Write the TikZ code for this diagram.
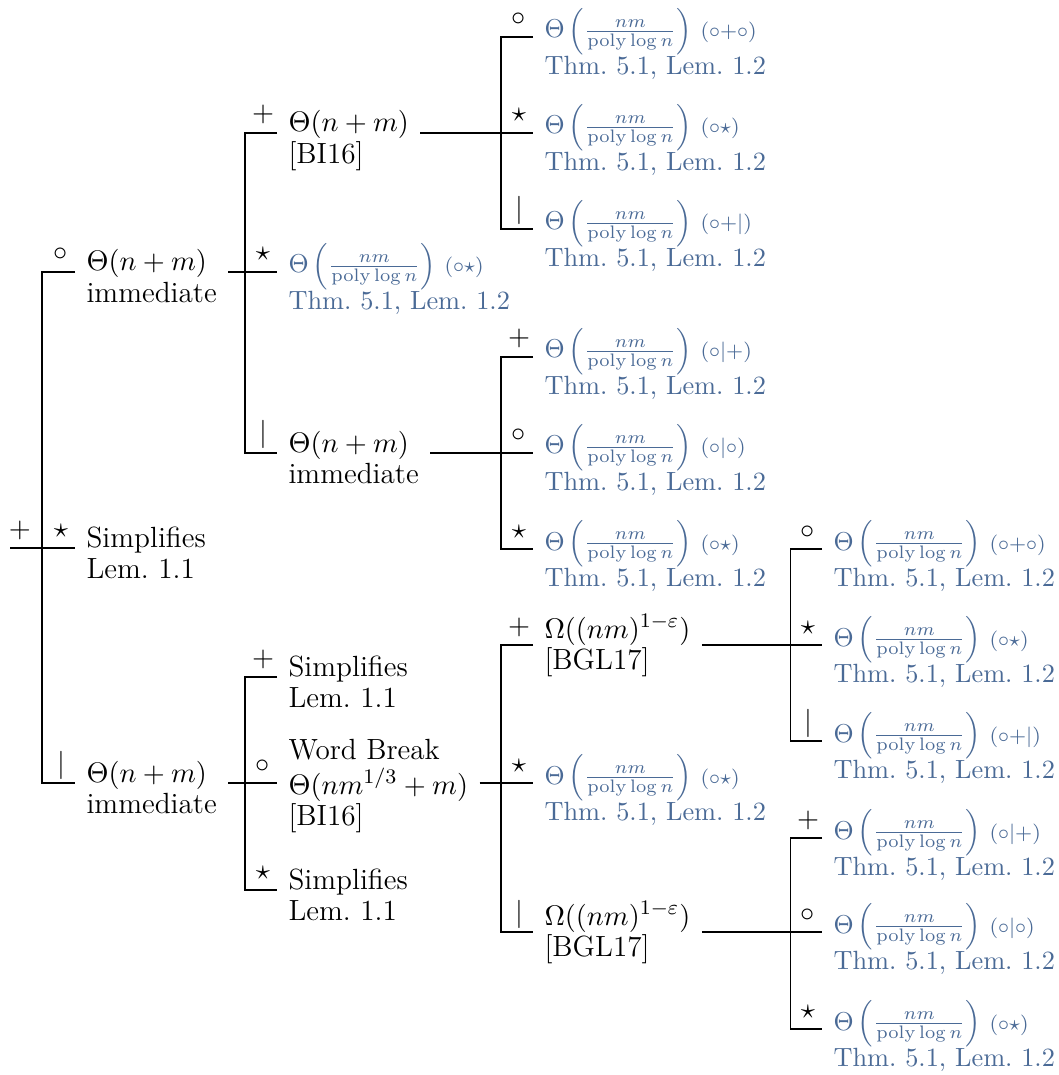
\documentclass[tikz,border=0pt]{standalone}
\usepackage{amsmath}
\usepackage{tikz}
\usetikzlibrary{calc}

\definecolor{resblue}{RGB}{74,106,150}

% lines of a node, its baseline on the first line
\newcommand{\rows}[1]{\begin{tabular}[t]{@{}l@{}}#1\end{tabular}}
% blue result text of a leaf
\newcommand{\ratebox}[1]{$\Theta\left(\frac{nm}{\mathrm{poly}\log n}\right)$ {\footnotesize$(#1)$}\\Thm.~5.1, Lem.~1.2}

% child: name, edge symbol, x and y where its edge ends, baseline offset, style, text
\newcommand{\kid}[7]{%
  \coordinate (#1-in) at (#3,#4);
  \node[#6] (#1) at (#3,{#4+#5}) {\rows{#7}};
  \node[sym] (#1-sym) at ([shift={(-14,-11)}]#1-in) {$#2$};
}
% parent with its three children
\newcommand{\fork}[4]{%
  \draw (#1.east |- #3-in) -- (#3-in);
  \draw (#2-in) -- ++(-32,0) |- (#4-in);
}

\begin{document}
\begin{tikzpicture}[x=0.387pt, y=-0.387pt,
    every node/.style={font=\fontsize{11.3}{12}\selectfont},
    txt/.style={anchor=base west, inner xsep=4.26pt},
    res/.style={txt, text=resblue, font=\fontsize{10.2}{11}\selectfont},
    sym/.style={anchor=base, inner sep=0pt}]
  \useasboundingbox (0,0) rectangle (1058,1075);

  % root
  \coordinate (root) at (10,548);
  \node[sym] (root-sym) at ([shift={(10,-11)}]root) {$+$};

  % first level
  \kid{a1}{\circ}{75}{272}{-1}{txt}{$\Theta(n+m)$\\immediate}
  \kid{a2}{\star}{75}{548}{-1}{txt}{Simplifies\\Lem.~1.1}
  \kid{a3}{|}{75}{783}{-1}{txt}{$\Theta(n+m)$\\immediate}
  \draw (root) -- (a2-in);
  \draw (a1-in) -- ++(-33,0) |- (a3-in);

  % second level
  \kid{b1}{+}{277}{133}{-1}{txt}{$\Theta(n+m)$\\{}[BI16]}
  \kid{b2}{\star}{277}{272}{1}{res}{\ratebox{\circ\star}}
  \kid{b3}{|}{277}{453}{-1}{txt}{$\Theta(n+m)$\\immediate}
  \kid{b4}{+}{277}{677}{-1}{txt}{Simplifies\\Lem.~1.1}
  \kid{b5}{\circ}{277}{783}{-24}{txt}{Word Break\\$\Theta(nm^{1/3}+m)$\\{}[BI16]}
  \kid{b6}{\star}{277}{890}{-1}{txt}{Simplifies\\Lem.~1.1}
  \fork{a1}{b1}{b2}{b3}
  \fork{a3}{b4}{b5}{b6}

  % third level
  \kid{c1}{\circ}{533}{37}{1}{res}{\ratebox{\circ{+}\circ}}
  \kid{c2}{\star}{533}{133}{1}{res}{\ratebox{\circ\star}}
  \kid{c3}{|}{533}{229}{1}{res}{\ratebox{\circ{+}|}}
  \kid{c4}{+}{533}{357}{1}{res}{\ratebox{\circ|{+}}}
  \kid{c5}{\circ}{533}{453}{1}{res}{\ratebox{\circ|\circ}}
  \kid{c6}{\star}{533}{549}{1}{res}{\ratebox{\circ\star}}
  \kid{c7}{+}{533}{645}{-7}{txt}{$\Omega((nm)^{1-\varepsilon})$\\{}[BGL17]}
  \kid{c8}{\star}{533}{783}{1}{res}{\ratebox{\circ\star}}
  \kid{c9}{|}{533}{932}{-7}{txt}{$\Omega((nm)^{1-\varepsilon})$\\{}[BGL17]}
  \fork{b1}{c1}{c2}{c3}
  \fork{b3}{c4}{c5}{c6}
  \fork{b5}{c7}{c8}{c9}

  % fourth level
  \kid{d1}{\circ}{822}{549}{1}{res}{\ratebox{\circ{+}\circ}}
  \kid{d2}{\star}{822}{645}{1}{res}{\ratebox{\circ\star}}
  \kid{d3}{|}{822}{741}{1}{res}{\ratebox{\circ{+}|}}
  \kid{d4}{+}{822}{838}{1}{res}{\ratebox{\circ|{+}}}
  \kid{d5}{\circ}{822}{932}{1}{res}{\ratebox{\circ|\circ}}
  \kid{d6}{\star}{822}{1029}{1}{res}{\ratebox{\circ\star}}
  \fork{c7}{d1}{d2}{d3}
  \fork{c9}{d4}{d5}{d6}
\end{tikzpicture}
\end{document}
